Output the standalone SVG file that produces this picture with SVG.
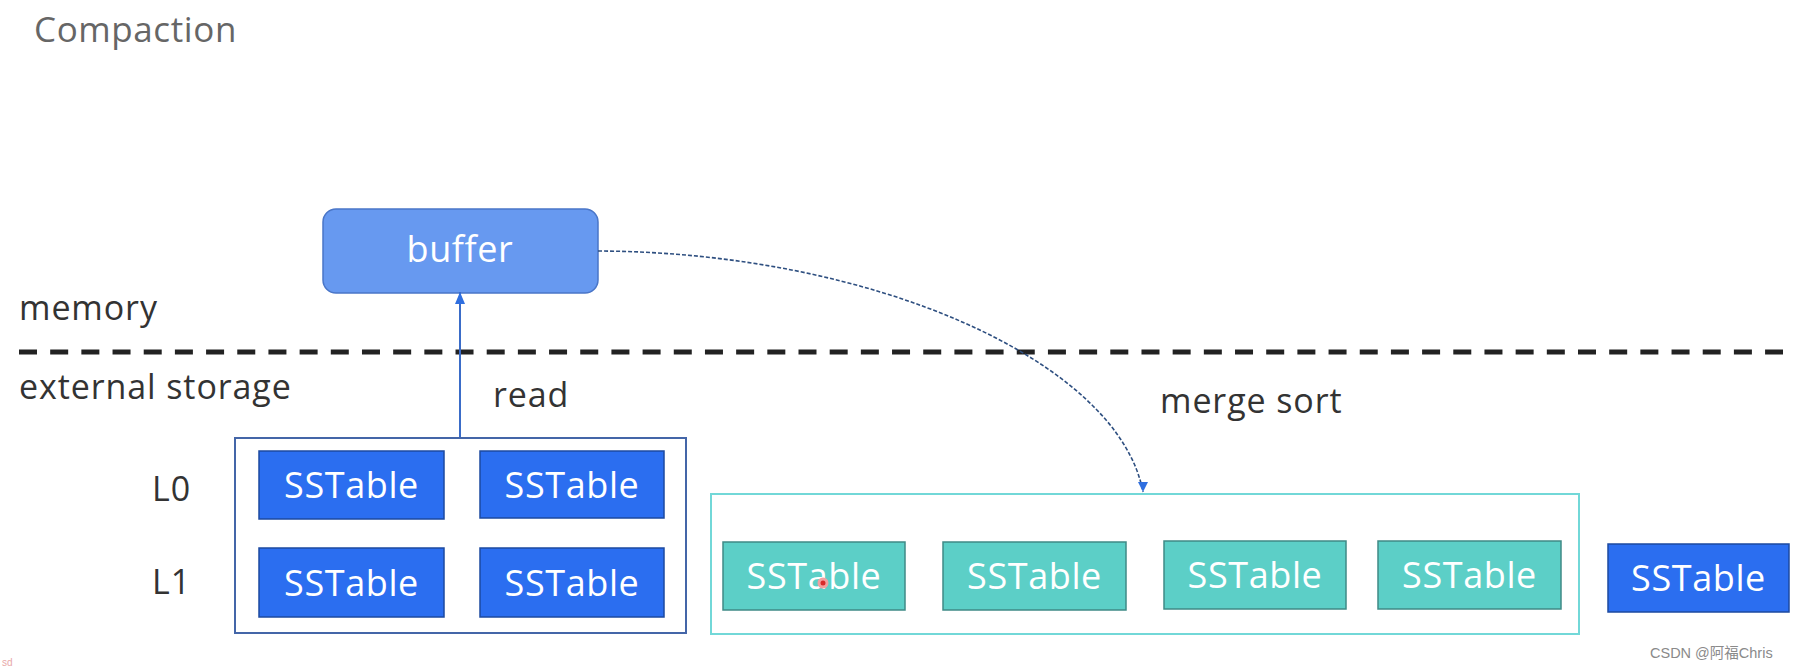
<svg xmlns="http://www.w3.org/2000/svg" width="1798" height="670" viewBox="0 0 1798 670">
  <style>
    .lbl { font-family: "Open Sans", "Noto Sans", sans-serif; fill: #333; font-size: 34px; letter-spacing: 0.9px; }
    .title { font-family: "Open Sans", "Noto Sans", sans-serif; fill: #666; font-size: 35px; letter-spacing: 0.6px; }
    .sst { fill: #2b6ef0; stroke: #1d4aa0; stroke-width: 1.5; }
    .sst-t { fill: #5ccfc7; stroke: #3f8a86; stroke-width: 1.5; }
    .st { font-family: "Open Sans", "Noto Sans", sans-serif; font-size: 36px; fill: #ffffff; text-anchor: middle; letter-spacing: 0.6px; }
  </style>
  <defs>
    <marker id="arrUp" viewBox="0 0 12 10" refX="12" refY="5" markerWidth="12" markerHeight="10" markerUnits="userSpaceOnUse" orient="auto">
      <path d="M0,0 L12,5 L0,10 Z" fill="#2f6fe0"/>
    </marker>
    <marker id="arrDown" viewBox="0 0 10 10" refX="5" refY="10" markerWidth="10" markerHeight="10" markerUnits="userSpaceOnUse" orient="0">
      <path d="M0,0 L10,0 L5,10 Z" fill="#2f6fe0"/>
    </marker>
  </defs>
  <rect width="1798" height="670" fill="#ffffff"/>

  <text id="title" class="title" x="34" y="42">Compaction</text>

  <text id="memory" class="lbl" x="19" y="320">memory</text>
  <text id="external" class="lbl" x="19" y="399">external storage</text>
  <line id="divider" x1="19" y1="352" x2="1783" y2="352" stroke="#222" stroke-width="5" stroke-dasharray="18 13.18"/>

  <g id="buffer">
    <rect x="323" y="209" width="275" height="84" rx="13" ry="13" fill="#6799f0" stroke="#4a76c8" stroke-width="1.5"/>
    <text class="st" x="460" y="262">buffer</text>
  </g>

  <g id="connectors">
    <line x1="460" y1="437" x2="460" y2="292" stroke="#3a6cc8" stroke-width="2" marker-end="url(#arrUp)"/>
    <path d="M598,251 C870,252 1118,360 1143,492" fill="none" stroke="#2e4f80" stroke-width="1.6" stroke-dasharray="4 2" marker-end="url(#arrDown)"/>
  </g>
  <text id="read-label" class="lbl" x="493" y="407">read</text>
  <text id="merge-label" class="lbl" x="1160" y="413">merge sort</text>

  <text id="L0" class="lbl" x="152" y="501" font-size="30" letter-spacing="1">L0</text>
  <text id="L1" class="lbl" x="152" y="594" font-size="30" letter-spacing="1">L1</text>

  <g id="levels">
    <rect x="235" y="438" width="451" height="195" fill="none" stroke="#4466a8" stroke-width="2"/>
  </g>
  <g id="l0-a"><rect class="sst" x="259" y="451" width="185" height="68"/><text class="st" x="351.5" y="498">SSTable</text></g>
  <g id="l0-b"><rect class="sst" x="480" y="451" width="184" height="67"/><text class="st" x="572" y="498">SSTable</text></g>
  <g id="l1-a"><rect class="sst" x="259" y="548" width="185" height="69"/><text class="st" x="351.5" y="596">SSTable</text></g>
  <g id="l1-b"><rect class="sst" x="480" y="548" width="184" height="69"/><text class="st" x="572" y="596">SSTable</text></g>

  <g id="merged">
    <rect x="711" y="494" width="868" height="140" fill="none" stroke="#72d8d8" stroke-width="2"/>
  </g>
  <g id="m1"><rect class="sst-t" x="723" y="542" width="182" height="68"/><text class="st" x="814" y="589">SSTable</text></g>
  <g id="m2"><rect class="sst-t" x="943" y="542" width="183" height="68"/><text class="st" x="1034.5" y="589">SSTable</text></g>
  <g id="m3"><rect class="sst-t" x="1164" y="541" width="182" height="68"/><text class="st" x="1255" y="588">SSTable</text></g>
  <g id="m4"><rect class="sst-t" x="1378" y="541" width="183" height="68"/><text class="st" x="1469.5" y="588">SSTable</text></g>
  <g id="extra"><rect class="sst" x="1608" y="544" width="181" height="68"/><text class="st" x="1698.5" y="591">SSTable</text></g>

  <circle cx="823" cy="583" r="4" fill="#d62b2b" stroke="#f2a0a0" stroke-width="3"/>

  <text id="watermark" x="1650" y="658" font-family="'Liberation Sans', 'Noto Sans CJK SC', sans-serif" font-size="14.5" fill="#8a8a8a">CSDN @阿福Chris</text>
  <text id="sd" x="2" y="666" font-family="'Liberation Sans', sans-serif" font-size="10" fill="#e8a8a8">sd</text>
</svg>
